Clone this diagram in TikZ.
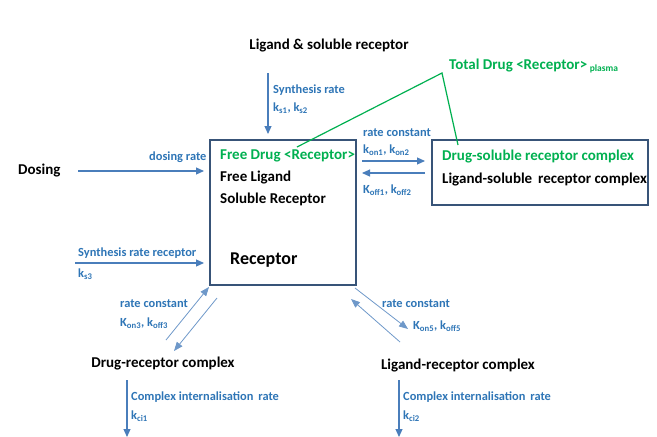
\documentclass[tikz,border=0pt]{standalone}
\usepackage{fontspec}
\setmainfont{Carlito}
\usetikzlibrary{arrows.meta}
\definecolor{lblue}{RGB}{46,117,182}
\definecolor{ablue}{RGB}{74,126,187}
\definecolor{boxc}{RGB}{56,84,120}
\definecolor{dgreen}{RGB}{0,176,80}
\begin{document}
\begin{tikzpicture}[x=1pt,y=-1pt,
  lbl/.style={text=lblue, font=\bfseries\fontsize{12.4}{14}\selectfont, inner sep=0pt, anchor=west},
  big/.style={font=\bfseries\fontsize{15}{17}\selectfont, inner sep=0pt},
  gtext/.style={big, text=dgreen},
  arr/.style={draw=ablue, line width=1.1pt, -{Triangle[length=8pt,width=7pt]}},
  thinarr/.style={draw=ablue!80, line width=0.8pt, -{Triangle[length=9pt,width=7pt]}},
  boxst/.style={draw=boxc, line width=2pt, inner sep=0pt},
  gline/.style={draw=dgreen, line width=1.2pt}]
\useasboundingbox (0,0) rectangle (657,437);

% boxes
\node[boxst, minimum width=146pt, minimum height=145pt] (main) at (283,212.5) {};
\node[boxst, minimum width=216pt, minimum height=65pt] (cplx) at (540,172.5) {};

% texts
\node[big, anchor=center] (lig) at (329,46) {Ligand \& soluble receptor};
\node[gtext, anchor=west] (tot) at (449,66) {Total Drug <Receptor>\,\textsubscript{\fontsize{9.5}{10}\selectfont plasma}};
\node[gtext, anchor=west] (fd) at (220,156) {Free Drug <Receptor>};
\node[big, anchor=west] (fl) at (220,178) {Free Ligand};
\node[big, anchor=west] (sr) at (220,199) {Soluble Receptor};
\node[font=\bfseries\fontsize{18}{20}\selectfont, inner sep=0pt, anchor=west] (rec) at (230,260) {Receptor};
\node[gtext, anchor=west] (dsc) at (442,157) {Drug-soluble receptor complex};
\node[big, anchor=west] (lsc) at (442,180) {Ligand-soluble\, receptor complex};
\node[big, anchor=west] (dos) at (18,171) {Dosing};
\node[big, anchor=center] (drc) at (163,364) {Drug-receptor complex};
\node[big, anchor=center] (lrc) at (458,366) {Ligand-receptor complex};

% labels
\node[lbl] (l1) at (273,90) {Synthesis rate};
\node[lbl] (l2) at (273,108) {k\textsubscript{s1}, k\textsubscript{s2}};
\node[lbl] (l3) at (149,157) {dosing rate};
\node[lbl] (l4) at (363,133) {rate constant};
\node[lbl] (l5) at (363,150) {k\textsubscript{on1}, k\textsubscript{on2}};
\node[lbl] (l6) at (363,190) {K\textsubscript{off1}, k\textsubscript{off2}};
\node[lbl] (l7) at (78,253) {Synthesis rate receptor};
\node[lbl] (l8) at (78,274) {k\textsubscript{s3}};
\node[lbl] (l9) at (120,304) {rate constant};
\node[lbl] (l10) at (120,323) {K\textsubscript{on3}, k\textsubscript{off3}};
\node[lbl] (l11) at (382,304) {rate constant};
\node[lbl] (l12) at (413,326) {K\textsubscript{on5}, k\textsubscript{off5}};
\node[lbl] (l13) at (131,397) {Complex internalisation\, rate};
\node[lbl] (l14) at (131,416) {k\textsubscript{ci1}};
\node[lbl] (l15) at (403,397) {Complex internalisation\, rate};
\node[lbl] (l16) at (403,416) {k\textsubscript{ci2}};

% coordinates
\coordinate (s1a) at (268,73);  \coordinate (s1b) at (268,134);
\coordinate (da) at (78,171);   \coordinate (db) at (204,171);
\coordinate (sra) at (75,263);  \coordinate (srb) at (204,263);
\coordinate (ra1) at (362,161); \coordinate (rb1) at (425,161);
\coordinate (ra2) at (425,173); \coordinate (rb2) at (362,173);
\coordinate (d1a) at (166,340); \coordinate (d1b) at (209,287);
\coordinate (d2a) at (217,298); \coordinate (d2b) at (174,351);
\coordinate (e1a) at (355,288); \coordinate (e1b) at (408,329);
\coordinate (e2a) at (400,342); \coordinate (e2b) at (351,299);
\coordinate (c1a) at (127,380); \coordinate (c1b) at (127,437);
\coordinate (c2a) at (399,380); \coordinate (c2b) at (399,437);
\coordinate (g1) at (297,147); \coordinate (gp) at (442,73); \coordinate (g2) at (458,145);

% arrows
\draw[arr] (s1a) -- (s1b);
\draw[arr] (da) -- (db);
\draw[arr] (sra) -- (srb);
\draw[arr] (ra1) -- (rb1);
\draw[arr] (ra2) -- (rb2);
\draw[thinarr] (d1a) -- (d1b);
\draw[thinarr] (d2a) -- (d2b);
\draw[thinarr] (e1a) -- (e1b);
\draw[thinarr] (e2a) -- (e2b);
\draw[arr] (c1a) -- (c1b);
\draw[arr] (c2a) -- (c2b);

% green lines
\draw[gline] (g1) -- (gp) -- (g2);
\end{tikzpicture}
\end{document}
